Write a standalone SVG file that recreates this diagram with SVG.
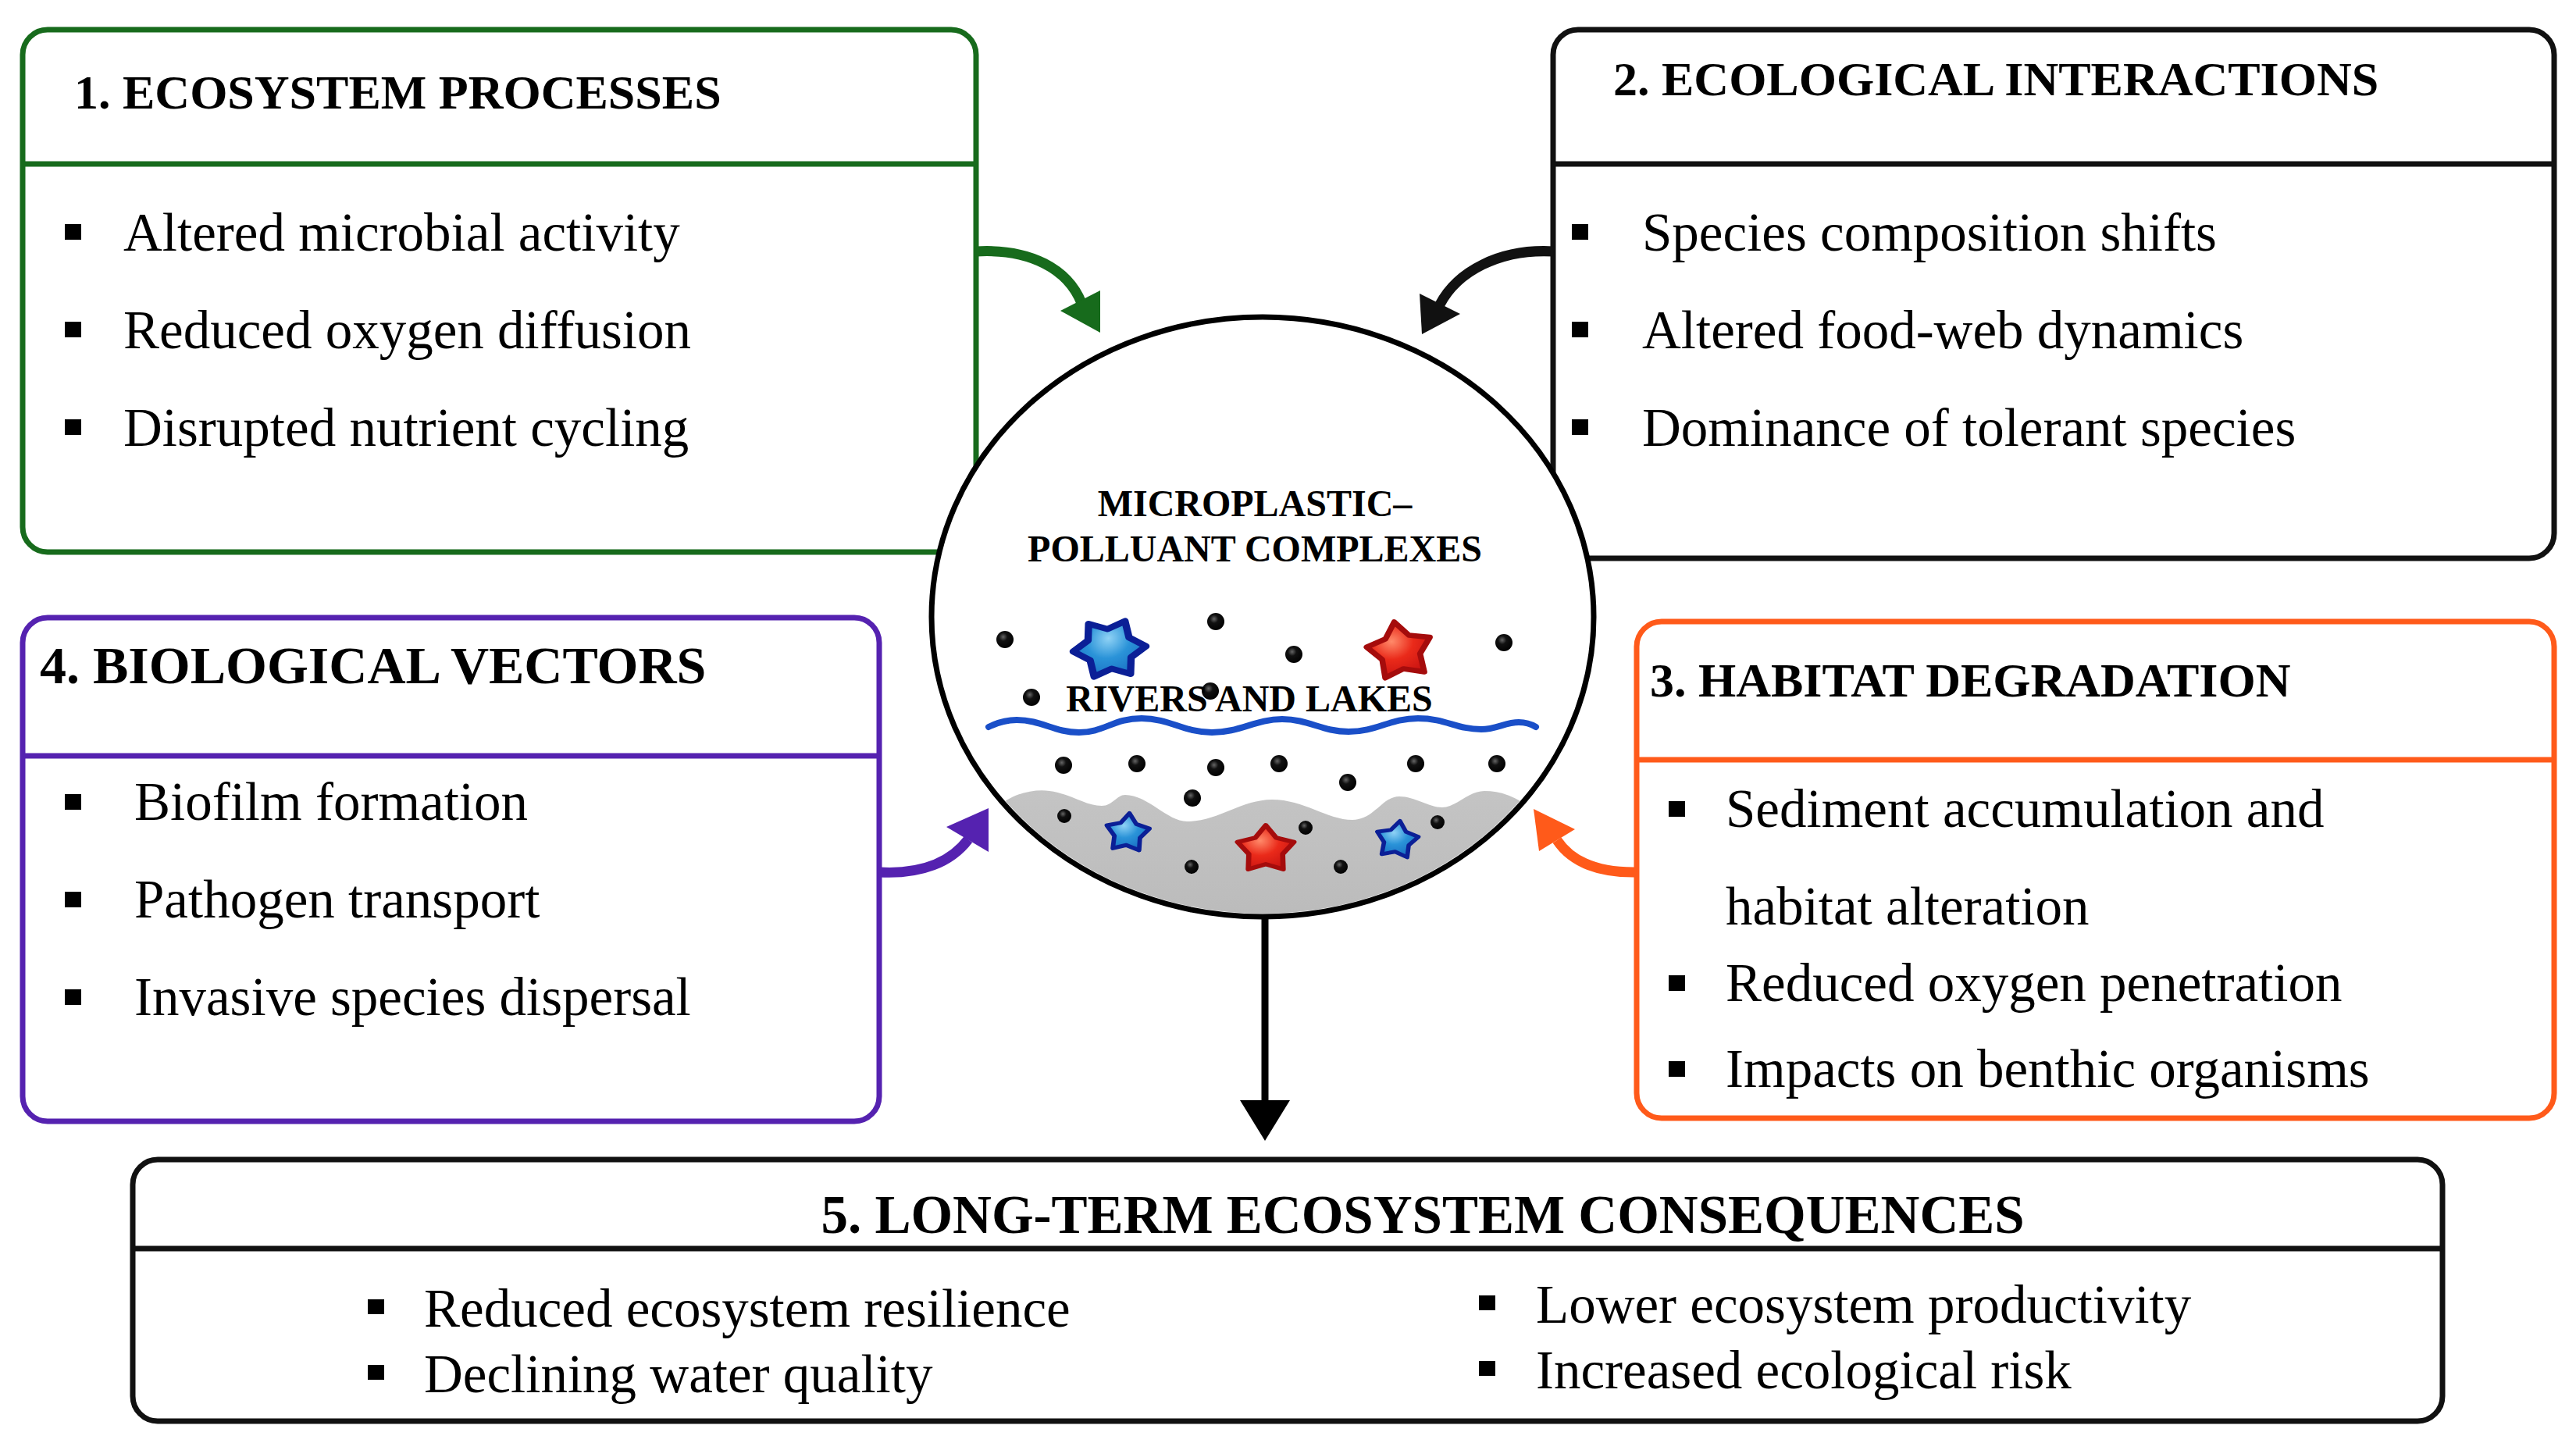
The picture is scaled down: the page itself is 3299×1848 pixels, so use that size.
<svg xmlns="http://www.w3.org/2000/svg" xmlns:xlink="http://www.w3.org/1999/xlink" width="3299" height="1848" viewBox="0 0 3299 1848">
<style>
text{font-family:"Liberation Serif","Times New Roman",serif;fill:#000}
.title{font-weight:bold;font-size:62px}
.title68{font-weight:bold;font-size:68px}
.item{font-size:69px}
.ctext{font-weight:bold;font-size:48px;text-anchor:middle}
.box{fill:#fff;stroke-width:7}
.div{stroke-width:7;fill:none}
.green{stroke:#176b1c}
.black{stroke:#111}
.purple{stroke:#5522b0}
.orange{stroke:#ff5a1a}
.bul{fill:#000}
.conn{fill:none;stroke-width:13;stroke-linecap:butt}
.dot{fill:url(#gDot)}
.sb{fill:url(#gBlue);stroke:#0b1f96;stroke-width:8;stroke-linejoin:round}
.sr{fill:url(#gRed);stroke:#a50c0c;stroke-width:7;stroke-linejoin:round}
</style>
<defs>
<radialGradient id="gDot" cx="0.4" cy="0.35" r="0.7">
<stop offset="0" stop-color="#666"/><stop offset="0.35" stop-color="#111"/><stop offset="1" stop-color="#000"/>
</radialGradient>
<radialGradient id="gBlue" cx="0.4" cy="0.35" r="0.75">
<stop offset="0" stop-color="#8fd2f5"/><stop offset="0.45" stop-color="#2a93d8"/><stop offset="1" stop-color="#1769c0"/>
</radialGradient>
<radialGradient id="gRed" cx="0.4" cy="0.35" r="0.75">
<stop offset="0" stop-color="#ff8a6a"/><stop offset="0.45" stop-color="#ea2a1a"/><stop offset="1" stop-color="#c41010"/>
</radialGradient>
<linearGradient id="gSed" x1="0" y1="0" x2="0" y2="1">
<stop offset="0" stop-color="#c4c4c4"/><stop offset="1" stop-color="#b9b9b9"/>
</linearGradient>
<clipPath id="clipE"><ellipse cx="1617" cy="790" rx="420" ry="380"/></clipPath>
<path id="star5" d="M0,-40 L14.1,-19.4 L38.04,-12.36 L22.8,7.4 L23.51,32.36 L0,24 L-23.51,32.36 L-22.8,7.4 L-38.04,-12.36 L-14.1,-19.4 Z"/>
<path id="star6" d="M0,-40 L13,-22.5 L34.64,-20 L26,0 L34.64,20 L13,22.5 L0,40 L-13,22.5 L-34.64,20 L-26,0 L-34.64,-20 L-13,-22.5 Z"/>
</defs>
<rect width="3299" height="1848" fill="#fff"/>

<g id="box1">
<rect class="box green" x="29" y="38" width="1221" height="669" rx="32"/>
<line class="div green" x1="29" y1="210" x2="1250" y2="210"/>
<text class="title" x="95" y="139">1. ECOSYSTEM PROCESSES</text>
<rect class="bul" x="83" y="287" width="21" height="20"/>
<text class="item" x="158" y="321">Altered microbial activity</text>
<rect class="bul" x="83" y="412" width="21" height="20"/>
<text class="item" x="158" y="446">Reduced oxygen diffusion</text>
<rect class="bul" x="83" y="537" width="21" height="20"/>
<text class="item" x="158" y="571">Disrupted nutrient cycling</text>
</g>

<g id="box2">
<rect class="box black" x="1989" y="38" width="1282" height="677" rx="32"/>
<line class="div black" x1="1989" y1="210" x2="3271" y2="210"/>
<text class="title" x="2066" y="122">2. ECOLOGICAL INTERACTIONS</text>
<rect class="bul" x="2013" y="287" width="21" height="20"/>
<text class="item" x="2103" y="321">Species composition shifts</text>
<rect class="bul" x="2013" y="412" width="21" height="20"/>
<text class="item" x="2103" y="446">Altered food-web dynamics</text>
<rect class="bul" x="2013" y="537" width="21" height="20"/>
<text class="item" x="2103" y="571">Dominance of tolerant species</text>
</g>

<g id="box4">
<rect class="box purple" x="29" y="791" width="1097" height="645" rx="32"/>
<line class="div purple" x1="29" y1="968" x2="1126" y2="968"/>
<text class="title68" x="51" y="875">4. BIOLOGICAL VECTORS</text>
<rect class="bul" x="83" y="1017" width="21" height="20"/>
<text class="item" x="172" y="1050">Biofilm formation</text>
<rect class="bul" x="83" y="1142" width="21" height="20"/>
<text class="item" x="172" y="1175">Pathogen transport</text>
<rect class="bul" x="83" y="1267" width="21" height="20"/>
<text class="item" x="172" y="1300">Invasive species dispersal</text>
</g>

<g id="box3">
<rect class="box orange" x="2096" y="796" width="1175" height="636" rx="32"/>
<line class="div orange" x1="2096" y1="973" x2="3271" y2="973"/>
<text class="title" x="2113" y="892">3. HABITAT DEGRADATION</text>
<rect class="bul" x="2137" y="1026" width="21" height="20"/>
<text class="item" x="2210" y="1059">Sediment accumulation and</text>
<text class="item" x="2210" y="1184">habitat alteration</text>
<rect class="bul" x="2137" y="1249" width="21" height="20"/>
<text class="item" x="2210" y="1282">Reduced oxygen penetration</text>
<rect class="bul" x="2137" y="1359" width="21" height="20"/>
<text class="item" x="2210" y="1392">Impacts on benthic organisms</text>
</g>

<g id="box5">
<rect class="box black" x="170" y="1485" width="2958" height="335" rx="32"/>
<line class="div black" x1="170" y1="1599" x2="3128" y2="1599"/>
<text class="title68" x="1822" y="1579" text-anchor="middle" style="font-size:69px">5. LONG-TERM ECOSYSTEM CONSEQUENCES</text>
<rect class="bul" x="471" y="1664" width="21" height="19"/>
<text class="item" x="543" y="1699">Reduced ecosystem resilience</text>
<rect class="bul" x="471" y="1748" width="21" height="19"/>
<text class="item" x="543" y="1783">Declining water quality</text>
<rect class="bul" x="1894" y="1659" width="21" height="19"/>
<text class="item" x="1967" y="1694">Lower ecosystem productivity</text>
<rect class="bul" x="1894" y="1743" width="21" height="19"/>
<text class="item" x="1967" y="1778">Increased ecological risk</text>
</g>

<g id="center">
<ellipse cx="1617" cy="790" rx="424" ry="384" fill="#fff"/>
<path clip-path="url(#clipE)" fill="url(#gSed)" d="M1280,1032 C1296,1016 1326,1010 1344,1013 C1370,1016 1390,1032 1411,1032 C1425,1032 1430,1018 1441,1018 C1470,1018 1495,1052 1520,1052 C1560,1052 1590,1024 1629,1024 C1670,1024 1700,1050 1732,1050 C1760,1050 1770,1020 1792,1020 C1812,1020 1830,1034 1847,1034 C1865,1034 1880,1013 1901,1013 C1922,1013 1940,1020 1956,1032 L1960,1220 L1276,1220 Z"/>
<ellipse cx="1617" cy="790" rx="424" ry="384" fill="none" stroke="#000" stroke-width="7"/>
<text class="ctext" x="1607" y="661">MICROPLASTIC–</text>
<text class="ctext" x="1607" y="719">POLLUANT COMPLEXES</text>
<circle class="dot" cx="1287" cy="819" r="11"/>
<circle class="dot" cx="1557" cy="796" r="11"/>
<circle class="dot" cx="1657" cy="838" r="11"/>
<circle class="dot" cx="1926" cy="823" r="11"/>
<circle class="dot" cx="1321" cy="893" r="11"/>
<circle class="dot" cx="1550" cy="885" r="11"/>
<use xlink:href="#star6" class="sb" transform="translate(1421,831) scale(1.17,0.98) rotate(25)"/>
<use xlink:href="#star5" class="sr" transform="translate(1793,834) scale(1.08,0.95) rotate(-10)"/>
<text class="ctext" x="1600" y="911">RIVERS AND LAKES</text>
<path d="M1266,931 C1280,924 1290,922 1302,922 C1334,922 1350,938 1382,938 C1414,938 1426,920 1462,920 C1498,920 1516,938 1552,938 C1588,938 1608,921 1642,921 C1676,921 1693,937 1727,937 C1763,937 1780,920 1816,920 C1852,920 1865,934 1897,934 C1916,934 1928,925 1945,925 C1955,925 1962,928 1967,931" fill="none" stroke="#1a4fc8" stroke-width="8" stroke-linecap="round"/>
<circle class="dot" cx="1362" cy="980" r="11"/>
<circle class="dot" cx="1456" cy="978" r="11"/>
<circle class="dot" cx="1557" cy="983" r="11"/>
<circle class="dot" cx="1638" cy="978" r="11"/>
<circle class="dot" cx="1813" cy="978" r="11"/>
<circle class="dot" cx="1917" cy="978" r="11"/>
<circle class="dot" cx="1726" cy="1002" r="11"/>
<circle class="dot" cx="1527" cy="1022" r="11"/>
<circle class="dot" cx="1363" cy="1045" r="9"/>
<circle class="dot" cx="1672" cy="1060" r="9"/>
<circle class="dot" cx="1841" cy="1053" r="9"/>
<circle class="dot" cx="1526" cy="1110" r="9"/>
<circle class="dot" cx="1717" cy="1110" r="9"/>
<use xlink:href="#star5" class="sb" transform="translate(1444,1067) scale(0.72,0.64) rotate(5)"/>
<use xlink:href="#star5" class="sr" transform="translate(1621,1088) scale(0.95,0.78)"/>
<use xlink:href="#star5" class="sb" transform="translate(1789,1076) scale(0.7,0.62) rotate(8)"/>
</g>

<g id="connectors">
<path class="conn" stroke="#176b1c" d="M1250,322 C1320,318 1368,345 1385,388"/>
<polygon fill="#176b1c" points="1358,398 1409,372 1409,426"/>
<path class="conn" stroke="#111" d="M1990,322 C1920,318 1866,348 1844,390"/>
<polygon fill="#111" points="1818,376 1870,402 1821,428"/>
<path class="conn" stroke="#5522b0" d="M1126,1117 C1180,1120 1218,1104 1240,1075"/>
<polygon fill="#5522b0" points="1212,1059 1266,1035 1266,1091"/>
<path class="conn" stroke="#ff5a1a" d="M2096,1117 C2040,1118 2010,1100 1994,1076"/>
<polygon fill="#ff5a1a" points="1964,1036 2017,1062 1971,1090"/>
<line x1="1620" y1="1174" x2="1620" y2="1412" stroke="#000" stroke-width="9"/>
<polygon fill="#000" points="1588,1409 1652,1409 1620,1461"/>
</g>
</svg>
